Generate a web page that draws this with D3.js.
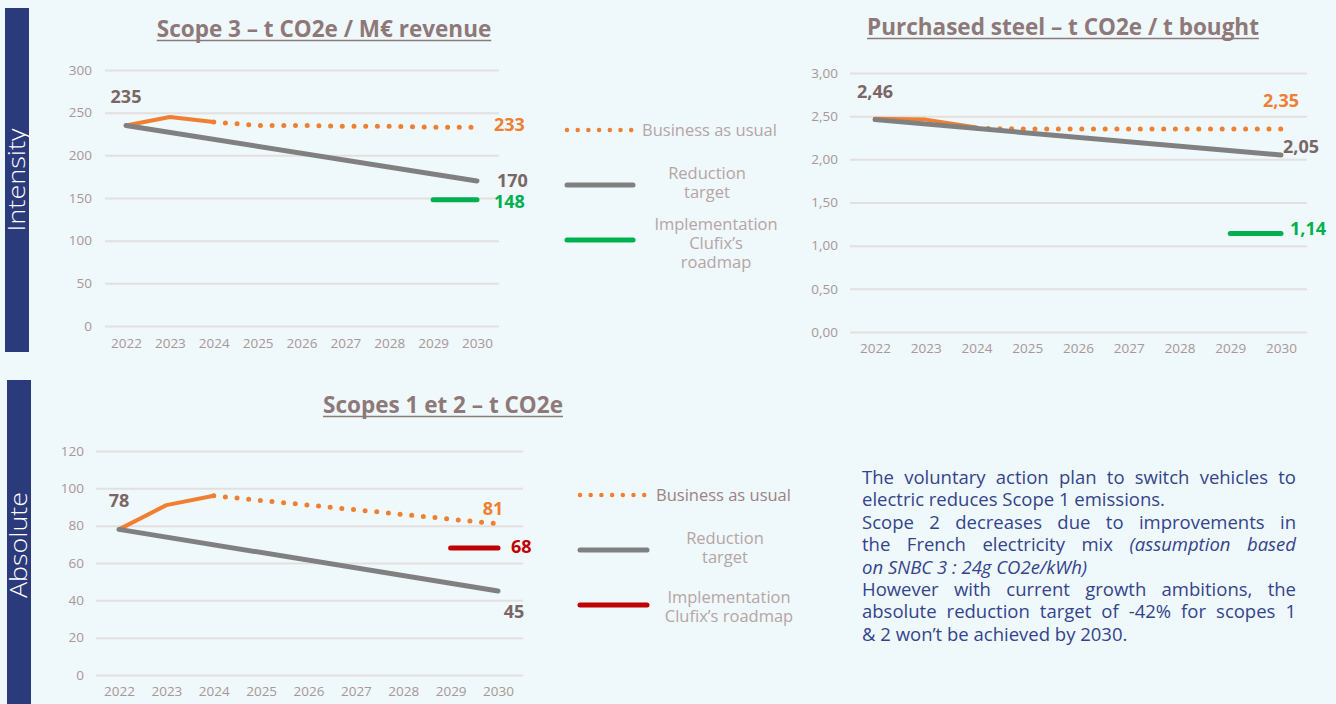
<!DOCTYPE html>
<html>
<head>
<meta charset="utf-8">
<script src="https://cdn.jsdelivr.net/npm/d3@7"></script>
<style>
  body { margin: 0; background: #eff8fb; font-family: "Open Sans", sans-serif; }
  #container { position: relative; width: 1336px; height: 704px; overflow: hidden; }
  .note { position: absolute; left: 862px; top: 466px; width: 434px; color: #34448c;
          font-size: 18.5px; line-height: 22.4px; }
  .note div { white-space: nowrap; text-align: justify; text-align-last: justify; }
  .note div.last { text-align-last: left; }
</style>
</head>
<body>
<div id="container"></div>
<script>
// ---- data ----
let years = [2022, 2023, 2024, 2025, 2026, 2027, 2028, 2029, 2030];

// Scope 3 intensity
let s3Ticks = [0, 50, 100, 150, 200, 250, 300];
let s3BauYears = [2022, 2023, 2024];
let s3Bau = [235, 245, 239];
let s3BauDotYears = [2024, 2025, 2026, 2027, 2028, 2029, 2030];
let s3BauDot = [239, 235, 235, 234, 234, 233, 233];
let s3TargetYears = [2022, 2030];
let s3Target = [235, 170];
let s3PlanYears = [2029, 2030];
let s3Plan = [148, 148];

// purchased steel intensity
let stTicks = [0, 0.5, 1, 1.5, 2, 2.5, 3];
let stBauYears = [2022, 2023, 2024];
let stBau = [2.47, 2.46, 2.37];
let stBauDotYears = [2024, 2025, 2026, 2027, 2028, 2029, 2030];
let stBauDot = [2.36, 2.35, 2.35, 2.35, 2.35, 2.35, 2.35];
let stTargetYears = [2022, 2030];
let stTarget = [2.46, 2.05];
let stPlanYears = [2029, 2030];
let stPlan = [1.14, 1.14];

// scopes 1 & 2 absolute
let s12Ticks = [0, 20, 40, 60, 80, 100, 120];
let s12BauYears = [2022, 2023, 2024];
let s12Bau = [78, 91, 96];
let s12BauDotYears = [2024, 2025, 2026, 2027, 2028, 2029, 2030];
let s12BauDot = [96, 93.5, 91, 88.5, 86, 83.5, 81];
let s12TargetYears = [2022, 2030];
let s12Target = [78, 45];
let s12PlanYears = [2029, 2030];
let s12Plan = [68, 68];

let orange = "#f07f32";
let grey = "#808080";
let green = "#00b050";
let red = "#c00000";
let labelGrey = "#7a6666";
let titleCol = "#8e7878";
let tickCol = "#a89797";

let w = 1336;
let h = 704;
let viz = d3.select("#container")
  .append("svg")
    .attr("width", w)
    .attr("height", h)
    .style("position", "absolute")
    .style("left", 0)
    .style("top", 0)
;

// side bars
viz.append("rect").attr("x", 5).attr("y", 8).attr("width", 24).attr("height", 344).attr("fill", "#2a3a7a");
viz.append("rect").attr("x", 7).attr("y", 380).attr("width", 24).attr("height", 324).attr("fill", "#2a3a7a");
viz.append("text")
  .attr("transform", "translate(25,180) rotate(-90)")
  .attr("text-anchor", "middle")
  .attr("fill", "white")
  .attr("textLength", 103)
  .attr("lengthAdjust", "spacingAndGlyphs")
  .style("font-size", "24px")
  .style("font-weight", 300)
  .text("Intensity");
viz.append("text")
  .attr("transform", "translate(27,545) rotate(-90)")
  .attr("text-anchor", "middle")
  .attr("fill", "white")
  .attr("textLength", 106)
  .attr("lengthAdjust", "spacingAndGlyphs")
  .style("font-size", "24px")
  .style("font-weight", 300)
  .text("Absolute");

function commaFmt(d){
  return d3.format(".2f")(d).replace(".", ",");
}

function drawChart(o){
  let g = viz.append("g");
  let xScale = d3.scaleLinear().domain([2022, 2030]).range(o.xRange);
  let yScale = d3.scaleLinear().domain([0, o.ticks[o.ticks.length-1]]).range(o.yRange);

  // grid + y labels
  let yAxis = d3.axisLeft(yScale)
    .tickValues(o.ticks)
    .tickFormat(o.fmt)
    .tickSize(-(o.gridX[1]-o.gridX[0]))
    .tickPadding(o.gridX[0]-o.yLabelX);
  let yAxisGroup = g.append("g")
    .attr("transform", "translate("+o.gridX[0]+",0)")
    .call(yAxis);
  yAxisGroup.select(".domain").remove();
  yAxisGroup.selectAll("line").attr("stroke", "#e4e0e0").attr("stroke-width", 2);
  yAxisGroup.selectAll("text")
    .attr("fill", tickCol)
    .style("font-size", "13.5px")
    .style("font-family", "Open Sans");

  // x labels
  let xAxis = d3.axisBottom(xScale).tickValues(years).tickFormat(d3.format("d")).tickSize(0).tickPadding(0);
  let xAxisGroup = g.append("g")
    .attr("transform", "translate(0,"+o.xLabelY+")")
    .call(xAxis);
  xAxisGroup.select(".domain").remove();
  xAxisGroup.selectAll("text")
    .attr("fill", tickCol)
    .style("font-size", "13.5px")
    .style("font-family", "Open Sans");

  let lineMaker = d3.line()
    .x(function(d){ return xScale(d[0]) })
    .y(function(d){ return yScale(d[1]) });

  g.append("path")
    .attr("d", lineMaker(d3.zip(o.bauDotYears, o.bauDot)))
    .attr("fill", "none")
    .attr("stroke", orange)
    .attr("stroke-width", 5)
    .attr("stroke-linecap", "round")
    .attr("stroke-dasharray", "0 11.7");
  g.append("path")
    .attr("d", lineMaker(d3.zip(o.bauYears, o.bau)))
    .attr("fill", "none")
    .attr("stroke", orange)
    .attr("stroke-width", 4)
    .attr("stroke-linejoin", "round")
    .attr("stroke-linecap", "round");
  g.append("path")
    .attr("d", lineMaker(d3.zip(o.targetYears, o.target)))
    .attr("fill", "none")
    .attr("stroke", grey)
    .attr("stroke-width", 5)
    .attr("stroke-linecap", "round");
  g.append("path")
    .attr("d", lineMaker(d3.zip(o.planYears, o.plan)))
    .attr("fill", "none")
    .attr("stroke", o.planColor)
    .attr("stroke-width", 5)
    .attr("stroke-linecap", "round");

  // value labels
  o.labels.forEach(function(l){
    g.append("text")
      .attr("x", xScale(l.year) + l.dx)
      .attr("y", yScale(l.value) + l.dy)
      .attr("text-anchor", l.anchor)
      .attr("fill", l.color)
      .style("font-size", "18px")
      .style("font-weight", 700)
      .text(o.fmt(l.value));
  });

  // title with underline
  let t = g.append("text")
    .attr("x", o.titleX)
    .attr("y", o.titleY)
    .attr("text-anchor", "middle")
    .attr("fill", titleCol)
    .style("font-size", "22.5px")
    .style("font-weight", 700)
    .text(o.title);
  let tw = t.node().getComputedTextLength();
  g.append("line")
    .attr("x1", o.titleX - tw/2).attr("x2", o.titleX + tw/2)
    .attr("y1", o.titleY + 3.5).attr("y2", o.titleY + 3.5)
    .attr("stroke", titleCol)
    .attr("stroke-width", 1.6);
}

function drawLegend(o){
  let g = viz.append("g");
  g.append("line")
    .attr("x1", o.x).attr("x2", o.x + o.len)
    .attr("y1", o.ys[0]).attr("y2", o.ys[0])
    .attr("stroke", orange).attr("stroke-width", 4.5)
    .attr("stroke-linecap", "round").attr("stroke-dasharray", "0 10.7");
  g.append("line")
    .attr("x1", o.x).attr("x2", o.x + o.len)
    .attr("y1", o.ys[1]).attr("y2", o.ys[1])
    .attr("stroke", grey).attr("stroke-width", 5).attr("stroke-linecap", "round");
  g.append("line")
    .attr("x1", o.x).attr("x2", o.x + o.len)
    .attr("y1", o.ys[2]).attr("y2", o.ys[2])
    .attr("stroke", o.planColor).attr("stroke-width", 5).attr("stroke-linecap", "round");

  g.append("text")
    .attr("x", o.x + o.len + 9)
    .attr("y", o.ys[0] + 5.5)
    .attr("fill", o.firstColor)
    .style("font-size", "16.5px")
    .text("Business as usual");

  function block(lines, cx, cy){
    let n = lines.length;
    lines.forEach(function(s, i){
      g.append("text")
        .attr("x", cx)
        .attr("y", cy + (i - (n-1)/2) * 19 + 5.5)
        .attr("text-anchor", "middle")
        .attr("fill", "#b5a5a5")
        .style("font-size", "16.5px")
        .text(s);
    });
  }
  block(["Reduction", "target"], o.cx[0], o.ys[1] - 2);
  block(o.planLines, o.cx[1], o.ys[2] + o.planDy);
}

drawChart({
  xRange: [126, 477], yRange: [326, 70], gridX: [105, 499], yLabelX: 92, xLabelY: 338,
  ticks: s3Ticks, fmt: d3.format("d"),
  bauYears: s3BauYears, bau: s3Bau, bauDotYears: s3BauDotYears, bauDot: s3BauDot,
  targetYears: s3TargetYears, target: s3Target, planYears: s3PlanYears, plan: s3Plan,
  planColor: green,
  title: "Scope 3 – t CO2e / M€ revenue", titleX: 324, titleY: 37,
  labels: [
    {year: 2022, value: s3Target[0], dx: 0, dy: -22, anchor: "middle", color: labelGrey},
    {year: 2030, value: s3BauDot[6], dx: 17, dy: 4, anchor: "start", color: orange},
    {year: 2030, value: s3Target[1], dx: 20, dy: 6, anchor: "start", color: labelGrey},
    {year: 2030, value: s3Plan[1], dx: 17, dy: 8, anchor: "start", color: green}
  ]
});

drawChart({
  xRange: [875, 1281], yRange: [332, 73], gridX: [850, 1307], yLabelX: 838, xLabelY: 343,
  ticks: stTicks, fmt: commaFmt,
  bauYears: stBauYears, bau: stBau, bauDotYears: stBauDotYears, bauDot: stBauDot,
  targetYears: stTargetYears, target: stTarget, planYears: stPlanYears, plan: stPlan,
  planColor: green,
  title: "Purchased steel – t CO2e / t bought", titleX: 1063, titleY: 35,
  labels: [
    {year: 2022, value: stTarget[0], dx: 0, dy: -22, anchor: "middle", color: labelGrey},
    {year: 2030, value: stBauDot[6], dx: 0, dy: -22, anchor: "middle", color: orange},
    {year: 2030, value: stTarget[1], dx: 2, dy: -2, anchor: "start", color: labelGrey},
    {year: 2030, value: stPlan[1], dx: 9, dy: 1, anchor: "start", color: green}
  ]
});

drawChart({
  xRange: [119, 498], yRange: [675, 451], gridX: [96, 523], yLabelX: 84, xLabelY: 686,
  ticks: s12Ticks, fmt: d3.format("d"),
  bauYears: s12BauYears, bau: s12Bau, bauDotYears: s12BauDotYears, bauDot: s12BauDot,
  targetYears: s12TargetYears, target: s12Target, planYears: s12PlanYears, plan: s12Plan,
  planColor: red,
  title: "Scopes 1 et 2 – t CO2e", titleX: 443, titleY: 413,
  labels: [
    {year: 2022, value: s12Target[0], dx: 0, dy: -22, anchor: "middle", color: labelGrey},
    {year: 2030, value: s12BauDot[6], dx: -5, dy: -9, anchor: "middle", color: orange},
    {year: 2030, value: s12Plan[1], dx: 13, dy: 5, anchor: "start", color: red},
    {year: 2030, value: s12Target[1], dx: 16, dy: 27, anchor: "middle", color: labelGrey}
  ]
});

drawLegend({
  x: 567, len: 66, ys: [130, 185, 240], planColor: green, firstColor: "#b5a5a5",
  cx: [707, 716], planLines: ["Implementation", "Clufix’s", "roadmap"], planDy: 3
});
drawLegend({
  x: 580, len: 67, ys: [495, 550, 605], planColor: red, firstColor: "#998484",
  cx: [725, 729], planLines: ["Implementation", "Clufix’s roadmap"], planDy: 2
});

// text note
let noteLines = [
  {html: "The voluntary action plan to switch vehicles to", last: false},
  {html: "electric reduces Scope 1 emissions.", last: true},
  {html: "Scope 2 decreases due to improvements in", last: false},
  {html: "the French electricity mix <i>(assumption based</i>", last: false},
  {html: "<i>on SNBC 3 : 24g CO2e/kWh)</i>", last: true},
  {html: "However with current growth ambitions, the", last: false},
  {html: "absolute reduction target of -42% for scopes 1", last: false},
  {html: "&amp; 2 won’t be achieved by 2030.", last: true}
];
d3.select("#container").append("div")
  .attr("class", "note")
  .selectAll("div")
  .data(noteLines)
  .join("div")
    .attr("class", function(d){ return d.last ? "last" : null })
    .html(function(d){ return d.html });
</script>
</body>
</html>
